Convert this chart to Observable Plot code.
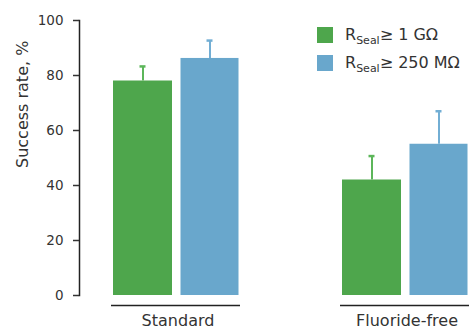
<!DOCTYPE html>
<html>
<head>
<meta charset="utf-8">
<script src="https://cdn.jsdelivr.net/npm/d3@7"></script>
<script src="https://cdn.jsdelivr.net/npm/@observablehq/plot@0.6"></script>
<style>
  html, body { margin: 0; padding: 0; background: #fff; }
  #wrap { position: relative; width: 471px; height: 331px; font-family: "DejaVu Sans", sans-serif; color: #333; }
  #legend { position: absolute; left: 317px; top: 27px; }
  .row { display: flex; align-items: center; height: 16px; margin-bottom: 12px; }
  .sw { width: 16px; height: 16px; margin-right: 12px; }
  .lab { font-size: 16px; line-height: 16px; white-space: nowrap; }
  .lab sub { font-size: 11px; vertical-align: -4px; line-height: 0; }
</style>
</head>
<body>
<div id="wrap">
  <div id="chart"></div>
  <div id="legend"></div>
</div>
<script>
// Data
const groups = ["Standard", "Fluoride-free"];
const seriesKeys = ["gohm", "mohm"];
const seriesLabels = ["R<sub>Seal</sub>≥ 1 GΩ", "R<sub>Seal</sub>≥ 250 MΩ"];
const gohmValues = [78, 42];
const gohmErrors = [5.3, 8.7];
const mohmValues = [86.2, 55];
const mohmErrors = [6.5, 12];
const yTicks = [0, 20, 40, 60, 80, 100];

const colors = {gohm: "#4ea64c", mohm: "#69a7cc"};
const errColors = {gohm: "#5cb65a", mohm: "#72aed4"};

const gohmRows = groups.map((g, i) => ({group: g, value: gohmValues[i], err: gohmErrors[i]}));
const mohmRows = groups.map((g, i) => ({group: g, value: mohmValues[i], err: mohmErrors[i]}));

const chart = Plot.plot({
  width: 471,
  height: 331,
  marginLeft: 79,
  marginRight: 2,
  marginTop: 20,
  marginBottom: 36,
  style: {fontFamily: "DejaVu Sans, sans-serif", background: "white", color: "#333"},
  x: {type: "band", domain: groups, paddingInner: 0.437, paddingOuter: 0.07, align: 1, axis: null},
  y: {domain: [0, 100], axis: null},
  marks: [
    Plot.barY(gohmRows, {x: "group", y: "value", fill: colors.gohm, insetLeft: 2, insetRight: 68}),
    Plot.barY(mohmRows, {x: "group", y: "value", fill: colors.mohm, insetLeft: 69.5, insetRight: 1.5}),
    Plot.ruleX(gohmRows, {x: "group", y1: "value", y2: d => d.value + d.err, dx: -33, stroke: errColors.gohm, strokeWidth: 2}),
    Plot.ruleX(mohmRows, {x: "group", y1: "value", y2: d => d.value + d.err, dx: 34, stroke: errColors.mohm, strokeWidth: 2}),
    Plot.tickY(gohmRows, {x: "group", y: d => d.value + d.err, insetLeft: 28.5, insetRight: 94.5, stroke: errColors.gohm, strokeWidth: 2.5}),
    Plot.tickY(mohmRows, {x: "group", y: d => d.value + d.err, insetLeft: 95.5, insetRight: 27.5, stroke: errColors.mohm, strokeWidth: 2.5}),
    Plot.tickY(groups, {x: d => d, y: () => 0, dy: 10, stroke: "#222", strokeWidth: 1.5}),
    Plot.axisX({tickSize: 0, tickPadding: 19, fontSize: 16, label: null, color: "#333", dx: 2}),
    Plot.frame({anchor: "left", stroke: "#222", strokeWidth: 1.5}),
    Plot.axisY({ticks: yTicks, tickSize: 6, tickPadding: 10, fontSize: 13.5, label: null, color: "#333", strokeWidth: 1.5}),
    Plot.text(["Success rate, %"], {frameAnchor: "left", rotate: -90, dx: -57, dy: 10, fontSize: 16, fill: "#333"})
  ]
});
document.getElementById("chart").appendChild(chart);

const legend = document.getElementById("legend");
seriesKeys.forEach((k, i) => {
  const row = document.createElement("div");
  row.className = "row";
  row.innerHTML = `<div class="sw" style="background:${colors[k]}"></div><div class="lab">${seriesLabels[i]}</div>`;
  legend.appendChild(row);
});
</script>
</body>
</html>
